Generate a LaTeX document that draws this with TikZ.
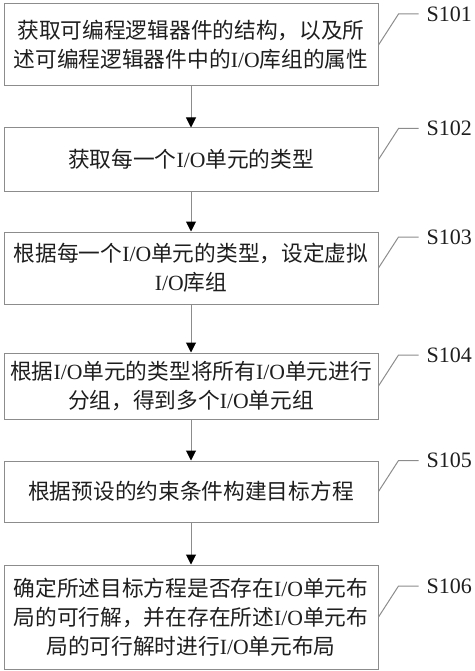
\documentclass[tikz,border=0pt]{standalone}
\usepackage{fontspec}
\setmainfont{Noto Sans CJK SC}
\newfontfamily\lat{Liberation Serif}
\usetikzlibrary{arrows.meta}
\newcommand{\io}{{\lat I/O}}
\definecolor{edgegray}{HTML}{8C8C8C}
\definecolor{inkc}{HTML}{1E1E1E}
\tikzset{
  stepbox/.style={draw=edgegray, line width=1pt, rectangle, minimum width=374pt,
    inner sep=0pt, align=center, text=inkc,
    font=\fontsize{21.7}{29}\selectfont},
  flow/.style={draw=edgegray, line width=1pt, -{Triangle[length=10pt,width=10pt,color=black]}},
  lead/.style={draw=edgegray, line width=1pt},
  steplabel/.style={anchor=west, inner sep=0pt, text=inkc, font=\lat\fontsize{22}{24}\selectfont}
}
\begin{document}
\begin{tikzpicture}[x=1pt,y=1pt]
\useasboundingbox (0,0) rectangle (474,-671);
\node[stepbox, minimum height=82pt] (b1) at (191,-45) {获取可编程逻辑器件的结构，以及所\\述可编程逻辑器件中的\io 库组的属性};
\node[stepbox, minimum height=63pt] (b2) at (191,-159.5) {获取每一个\io 单元的类型};
\node[stepbox, minimum height=72pt] (b3) at (191,-268) {根据每一个\io 单元的类型，设定虚拟\\\io 库组};
\node[stepbox, minimum height=66pt] (b4) at (191,-386) {根据\io 单元的类型将所有\io 单元进行\\分组，得到多个\io 单元组};
\node[stepbox, minimum height=61pt] (b5) at (191,-491.5) {根据预设的约束条件构建目标方程};
\node[stepbox, minimum height=104pt] (b6) at (191,-617) {确定所述目标方程是否存在\io 单元布\\局的可行解，并在存在所述\io 单元布\\局的可行解时进行\io 单元布局};
\draw[flow] (b1) -- (b2);
\draw[flow] (b2) -- (b3);
\draw[flow] (b3) -- (b4);
\draw[flow] (b4) -- (b5);
\draw[flow] (b5) -- (b6);
\foreach \b/\s in {b1/S101,b2/S102,b3/S103,b4/S104,b5/S105,b6/S106}{
  \draw[lead] (\b.east) -- ++(20pt,31pt) -- ++(20pt,0pt) coordinate (l\b);
  \node[steplabel] (t\b) at ([xshift=8pt]l\b) {\s};
}
\end{tikzpicture}
\end{document}
